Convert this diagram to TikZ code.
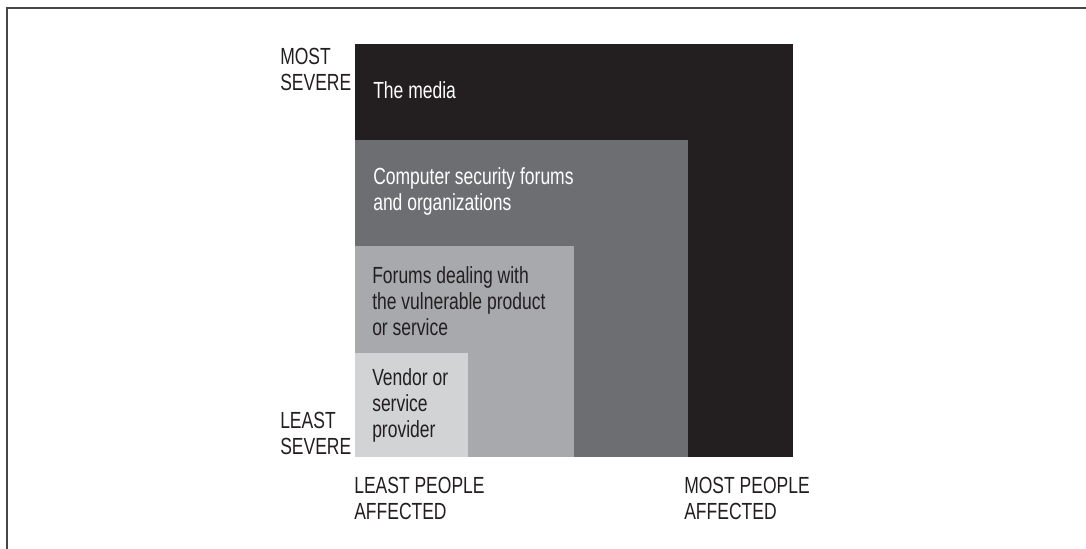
\documentclass[tikz,border=0pt]{standalone}
\usepackage{fontspec}
\setmainfont{Liberation Sans}[FakeStretch=0.75]
\usepackage{xcolor}
\usepackage{tikz}
\usetikzlibrary{positioning}
\definecolor{lvblack}{RGB}{35,31,32}
\definecolor{lvdark}{RGB}{109,110,113}
\definecolor{lvmid}{RGB}{167,169,172}
\definecolor{lvlight}{RGB}{209,211,212}
\definecolor{lvframe}{RGB}{70,70,70}

\begin{document}
\begin{tikzpicture}[
  x=0.75pt, y=-0.75pt,
  every node/.style={font=\fontsize{17.5}{19.5}\selectfont},
  lvtext/.style={anchor=base west, inner sep=0pt, align=left},
  axis/.style={lvtext, text=lvblack},
  level/.style={lvtext},
]
\useasboundingbox (0,0) rectangle (1086,549);

% Frame
\draw[lvframe, line width=1.5pt] (1086,8) -- (7,8) -- (7,549);

% Nested levels
\fill[lvblack] (355,44)  rectangle (793,457);
\fill[lvdark]  (355,140) rectangle (688,457);
\fill[lvmid]   (355,246) rectangle (574,457);
\fill[lvlight] (355,353) rectangle (468,457);

% Level labels (placed at the baseline of the last line)
\node[level, text=white]   (media)  at (373,99)  {The media};
\node[level, text=white]   (csec)   at (373,211) {Computer security forums\\and organizations};
\node[level, text=lvblack] (forums) at (372,335) {Forums dealing with\\the vulnerable product\\or service};
\node[level, text=lvblack] (vendor) at (372,437) {Vendor or\\service\\provider};

% Axis labels
\node[axis] (mostsev)  at (280,91)  {MOST\\SEVERE};
\node[axis] (leastsev) at (280,454) {LEAST\\SEVERE};
\node[axis] (leastpp)  at (354,519) {LEAST PEOPLE\\AFFECTED};
\node[axis] (mostpp)   at (684,519) {MOST PEOPLE\\AFFECTED};

\end{tikzpicture}
\end{document}
